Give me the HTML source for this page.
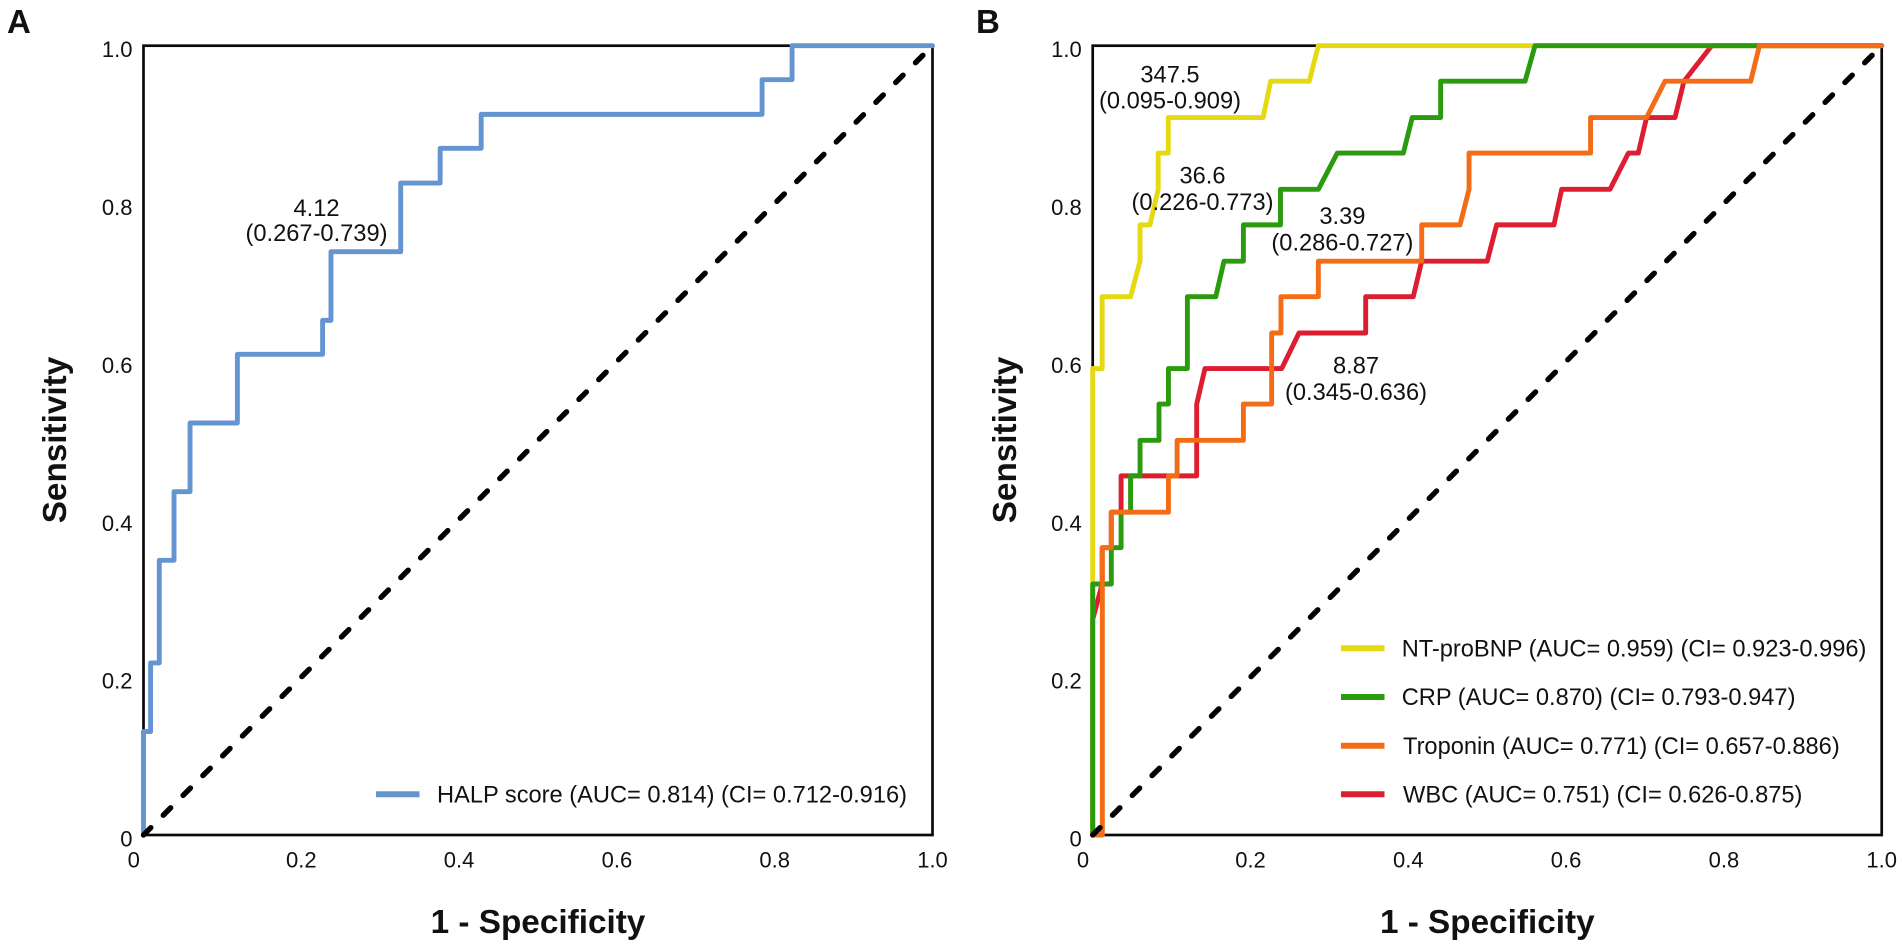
<!DOCTYPE html>
<html lang="en">
<head>
<meta charset="utf-8">
<title>ROC curves</title>
<style>
html,body{margin:0;padding:0;background:#fff;}
svg{display:block;}
text{font-family:"Liberation Sans",Arial,sans-serif;fill:#111;}
.note,.leg{font-size:23.65px;}
.tick{font-size:22px;}
.title{font-size:33.3px;font-weight:bold;}
.panel{font-size:33px;font-weight:bold;}
</style>
</head>
<body>
<svg id="chart" xmlns="http://www.w3.org/2000/svg" width="1902" height="946" viewBox="0 0 1902 946">
  <rect width="1902" height="946" fill="#fff"/>
  <g id="panel-a"></g>
  <g id="panel-b"></g>

  <text class="panel" x="7" y="33">A</text>
  <text class="panel" x="976" y="33">B</text>

  <text class="title" transform="translate(66,440) rotate(-90)" text-anchor="middle">Sensitivity</text>
  <text class="title" transform="translate(1016,440) rotate(-90)" text-anchor="middle">Sensitivity</text>
  <text class="title" x="538" y="933" text-anchor="middle">1 - Specificity</text>
  <text class="title" x="1487.3" y="933" text-anchor="middle">1 - Specificity</text>

  <g text-anchor="middle">
    <text class="note" x="316.5" y="216">4.12</text>
    <text class="note" x="316.5" y="241">(0.267-0.739)</text>
  </g>
  <g text-anchor="middle">
    <text class="note" x="1170" y="82.5">347.5</text>
    <text class="note" x="1170" y="108.5">(0.095-0.909)</text>
  </g>
  <g text-anchor="middle">
    <text class="note" x="1202.5" y="183.5">36.6</text>
    <text class="note" x="1202.5" y="210">(0.226-0.773)</text>
  </g>
  <g text-anchor="middle">
    <text class="note" x="1342.4" y="224">3.39</text>
    <text class="note" x="1342.4" y="250.7">(0.286-0.727)</text>
  </g>
  <g text-anchor="middle">
    <text class="note" x="1356" y="373.3">8.87</text>
    <text class="note" x="1356" y="400">(0.345-0.636)</text>
  </g>

  <g>
    <line x1="376" x2="419.5" y1="794.3" y2="794.3" stroke="#6595d0" stroke-width="6"/>
    <text class="leg" x="437" y="802.7">HALP score (AUC= 0.814) (CI= 0.712-0.916)</text>
  </g>
  <g>
    <line x1="1341" x2="1384.5" y1="648.3" y2="648.3" stroke="#e5da12" stroke-width="6"/>
    <text class="leg" x="1401.7" y="656.7">NT-proBNP (AUC= 0.959) (CI= 0.923-0.996)</text>
    <line x1="1341" x2="1384.5" y1="697" y2="697" stroke="#2a9a0e" stroke-width="6"/>
    <text class="leg" x="1401.7" y="705.2">CRP (AUC= 0.870) (CI= 0.793-0.947)</text>
    <line x1="1341" x2="1384.5" y1="745.7" y2="745.7" stroke="#f36c17" stroke-width="6"/>
    <text class="leg" x="1403" y="754">Troponin (AUC= 0.771) (CI= 0.657-0.886)</text>
    <line x1="1341" x2="1384.5" y1="794.3" y2="794.3" stroke="#dc1e30" stroke-width="6"/>
    <text class="leg" x="1403" y="802.7">WBC (AUC= 0.751) (CI= 0.626-0.875)</text>
  </g>
</svg>
<script>
// ---- chart data (1 - specificity, sensitivity) ----
const xTicks = [0, 0.2, 0.4, 0.6, 0.8, 1];
const xTickLabels = ['0', '0.2', '0.4', '0.6', '0.8', '1.0'];
const yTicks = [0, 0.2, 0.4, 0.6, 0.8, 1];
const yTickLabels = ['0', '0.2', '0.4', '0.6', '0.8', '1.0'];
const referenceX = [0, 1];
const referenceY = [0, 1];

const halpX = [0, 0, 0.009, 0.009, 0.020, 0.020, 0.0387, 0.0387, 0.059, 0.059, 0.119, 0.119, 0.227, 0.227, 0.2376, 0.2376, 0.326, 0.326, 0.376, 0.376, 0.428, 0.428, 0.784, 0.784, 0.822, 0.822, 1];
const halpY = [0, 0.131, 0.131, 0.218, 0.218, 0.348, 0.348, 0.435, 0.435, 0.522, 0.522, 0.609, 0.609, 0.652, 0.652, 0.739, 0.739, 0.826, 0.826, 0.870, 0.870, 0.913, 0.913, 0.957, 0.957, 1, 1];

const ntProBnpX = [0, 0, 0.012, 0.012, 0.048, 0.060, 0.060, 0.0726, 0.083, 0.083, 0.0958, 0.0958, 0.216, 0.2256, 0.2745, 0.286, 1];
const ntProBnpY = [0, 0.591, 0.591, 0.682, 0.682, 0.727, 0.773, 0.773, 0.818, 0.864, 0.864, 0.909, 0.909, 0.955, 0.955, 1, 1];

const crpX = [0, 0, 0.0236, 0.0236, 0.036, 0.036, 0.048, 0.048, 0.060, 0.060, 0.084, 0.084, 0.096, 0.096, 0.120, 0.120, 0.156, 0.1664, 0.191, 0.191, 0.238, 0.238, 0.286, 0.310, 0.3937, 0.405, 0.441, 0.441, 0.548, 0.5606, 1];
const crpY = [0, 0.318, 0.318, 0.364, 0.364, 0.409, 0.409, 0.455, 0.455, 0.500, 0.500, 0.546, 0.546, 0.591, 0.591, 0.682, 0.682, 0.727, 0.727, 0.773, 0.773, 0.818, 0.818, 0.864, 0.864, 0.909, 0.909, 0.955, 0.955, 1, 1];

const troponinX = [0, 0.0122, 0.0122, 0.0235, 0.0235, 0.096, 0.096, 0.107, 0.107, 0.191, 0.191, 0.2268, 0.2268, 0.2386, 0.2386, 0.286, 0.286, 0.417, 0.417, 0.4655, 0.477, 0.477, 0.631, 0.631, 0.702, 0.7253, 0.834, 0.845, 1];
const troponinY = [0, 0, 0.364, 0.364, 0.409, 0.409, 0.455, 0.455, 0.500, 0.500, 0.546, 0.546, 0.636, 0.636, 0.682, 0.682, 0.727, 0.727, 0.773, 0.773, 0.818, 0.864, 0.864, 0.909, 0.909, 0.955, 0.955, 1, 1];

const wbcX = [0, 0, 0.012, 0.012, 0.0236, 0.0236, 0.036, 0.036, 0.1318, 0.1318, 0.1423, 0.2395, 0.2615, 0.346, 0.346, 0.4063, 0.417, 0.500, 0.512, 0.5846, 0.5944, 0.6556, 0.679, 0.6915, 0.702, 0.738, 0.7494, 0.7845, 1];
const wbcY = [0, 0.273, 0.318, 0.364, 0.364, 0.409, 0.409, 0.455, 0.455, 0.546, 0.591, 0.591, 0.636, 0.636, 0.682, 0.682, 0.727, 0.727, 0.773, 0.773, 0.818, 0.818, 0.864, 0.864, 0.909, 0.909, 0.955, 1, 1];

// ---- drawing ----
const SVGNS = 'http://www.w3.org/2000/svg';
const plotTop = 45.7;
const plotBottom = 835;
const plotWidth = 789;
const leftA = 143.5;
const leftB = 1092.7;

function yScale(v) {
  return plotBottom - v * (plotBottom - plotTop);
}
function xScaleFor(left) {
  return function (v) {
    return left + v * plotWidth;
  };
}
function make(tag, attrs, parent) {
  const el = document.createElementNS(SVGNS, tag);
  for (const k in attrs) el.setAttribute(k, attrs[k]);
  parent.appendChild(el);
  return el;
}
function pathFrom(xs, ys, xScale) {
  return xs.map(function (x, i) {
    return (i ? 'L' : 'M') + xScale(x).toFixed(2) + ' ' + yScale(ys[i]).toFixed(2);
  }).join(' ');
}
function drawAxes(g, left, xScale) {
  const frame = make('rect', {x: left, y: plotTop, width: plotWidth, height: plotBottom - plotTop, fill: 'none', stroke: '#0a0a0a', 'stroke-width': 2.7}, g);
  
  
  xTicks.forEach(function (v, i) {
    const t = make('text', {class: 'tick', x: xScale(v) - (v === 0 ? 9.7 : 0), y: 867.7, 'text-anchor': 'middle'}, g);
    t.textContent = xTickLabels[i];
    
    
  });
  yTicks.forEach(function (v, i) {
    const t = make('text', {class: 'tick', x: left - 11, y: yScale(v) + 11.5, 'text-anchor': 'end'}, g);
    t.textContent = yTickLabels[i];
    
    
  });
}
function drawCurve(g, xs, ys, xScale, color, name) {
  const p = make('path', {d: pathFrom(xs, ys, xScale), fill: 'none', stroke: color, 'stroke-width': 4.9, 'stroke-linejoin': 'round', 'stroke-linecap': 'round'}, g);
  
  
}
function drawReference(g, xScale) {
  const p = make('path', {d: pathFrom(referenceX, referenceY, xScale), fill: 'none', stroke: '#000', 'stroke-width': 5.4, 'stroke-linecap': 'round', 'stroke-dasharray': '10.4 17.6'}, g);
  
  
}

const xA = xScaleFor(leftA);
const xB = xScaleFor(leftB);
const gA = document.getElementById('panel-a');
const gB = document.getElementById('panel-b');

drawAxes(gA, leftA, xA);
drawCurve(gA, halpX, halpY, xA, '#6595d0', 'curve-halp-score');
drawReference(gA, xA);

drawAxes(gB, leftB, xB);
drawCurve(gB, wbcX, wbcY, xB, '#dc1e30', 'curve-wbc');
drawCurve(gB, ntProBnpX, ntProBnpY, xB, '#e5da12', 'curve-nt-probnp');
drawCurve(gB, crpX, crpY, xB, '#2a9a0e', 'curve-crp');
drawCurve(gB, troponinX, troponinY, xB, '#f36c17', 'curve-troponin');
drawReference(gB, xB);
</script>
</body>
</html>
